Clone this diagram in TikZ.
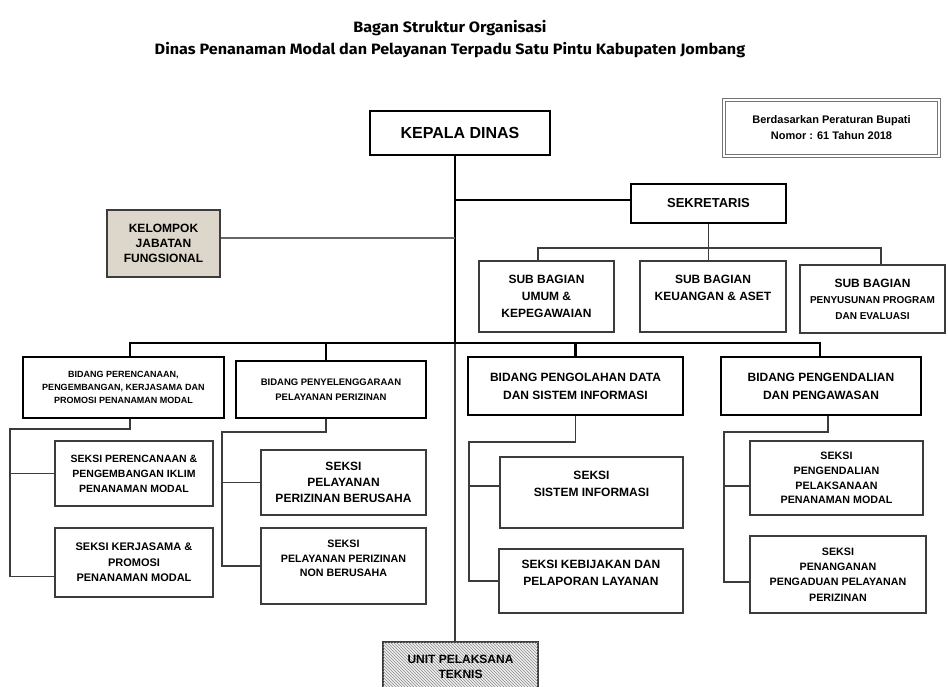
\documentclass[tikz,border=0pt]{standalone}
\usepackage{fontspec}
\setmainfont{Liberation Sans}[BoldFont={Liberation Sans Bold}]
\newfontfamily\titlefont{Fira Sans}[FakeStretch=1.08, BoldFont={Fira Sans Bold}]
\usetikzlibrary{patterns}
\definecolor{kelfill}{RGB}{221,214,202}
\definecolor{linegray}{RGB}{60,60,60}
\newcommand{\boxfont}[2]{\bfseries\fontsize{#1}{#2}\selectfont}
\tikzset{
  sz/.style 2 args={minimum width=#1pt, minimum height=#2pt},
  box/.style={draw, align=center, inner sep=1pt, text=black},
  kepala/.style={box, line width=2.8pt},
  bidang/.style={box, line width=2.2pt},
  seksi/.style={box, line width=1.1pt, draw=linegray},
  tebal/.style={line width=2.6pt},
  tipis/.style={line width=1.1pt, draw=linegray},
}
\begin{document}
\begin{tikzpicture}[x=1pt,y=-1pt]
        \useasboundingbox (0,0) rectangle (948,687);
        \node[align=center, font=\titlefont\bfseries\fontsize{15}{22}\selectfont] (judul) at (450,39)
          {Bagan Struktur Organisasi\\Dinas Penanaman Modal dan Pelayanan Terpadu Satu Pintu Kabupaten Jombang};

        \node[kepala, sz={180}{44}, font=\boxfont{16}{18}] (kd) at (460,133) {KEPALA DINAS};
        \node[box, sz={215}{56}, draw=black!55, double=white, double distance=1.6pt, line width=1.2pt,
          font=\boxfont{11}{16}] (dasar) at (831.5,128) {Berdasarkan Peraturan Bupati\\Nomor : 61 Tahun 2018};
        \node[kepala, line width=2.4pt, sz={155}{39}, font=\boxfont{13}{15}] (sek) at (708.5,203.5) {SEKRETARIS};
        \node[seksi, fill=kelfill, line width=1.3pt, sz={113}{67}, font=\boxfont{12}{15}] (kel) at (163.5,243.5)
          {KELOMPOK\\JABATAN\\FUNGSIONAL};

        % sub bagian
        \node[seksi, sz={135}{71}, font=\boxfont{12}{17}] (sb1) at (546.5,296.5) {SUB BAGIAN\\UMUM \&\\KEPEGAWAIAN};
        \node[seksi, sz={146}{71}, font=\boxfont{12}{17}] (sb2) at (713,296.5) {SUB BAGIAN\\KEUANGAN \& ASET\\\mbox{}};
        \node[seksi, sz={145}{68}, font=\boxfont{12}{16}] (sb3) at (872.5,299)
          {SUB BAGIAN\\{\boxfont{10}{15}PENYUSUNAN PROGRAM}\\{\boxfont{10}{15}DAN EVALUASI}};

        % bidang
        \node[bidang, sz={201}{61}, font=\boxfont{9}{13}] (bp1) at (123.5,387.5)
          {BIDANG PERENCANAAN,\\PENGEMBANGAN, KERJASAMA DAN\\PROMOSI PENANAMAN MODAL};
        \node[bidang, sz={190}{57}, font=\boxfont{9.5}{15}] (bp2) at (331,389.5)
          {BIDANG PENYELENGGARAAN\\PELAYANAN PERIZINAN};
        \node[bidang, sz={215}{58}, font=\boxfont{12}{18}] (bp3) at (575.5,386)
          {BIDANG PENGOLAHAN DATA\\DAN SISTEM INFORMASI};
        \node[bidang, sz={200}{58}, font=\boxfont{12}{18}] (bp4) at (821,386)
          {BIDANG PENGENDALIAN\\DAN PENGAWASAN};

        % seksi
        \node[seksi, sz={158}{65}, font=\boxfont{10.5}{15}] (s1a) at (134,473.5)
          {SEKSI PERENCANAAN \&\\PENGEMBANGAN IKLIM\\PENANAMAN MODAL};
        \node[seksi, sz={158}{69}, font=\boxfont{11}{15.5}] (s1b) at (134,562.5)
          {SEKSI KERJASAMA \&\\PROMOSI\\PENANAMAN MODAL};
        \node[seksi, sz={165}{65}, font=\boxfont{12}{16}] (s2a) at (343.5,482.5)
          {SEKSI\\PELAYANAN\\PERIZINAN BERUSAHA};
        \node[seksi, sz={165}{76}, font=\boxfont{10.7}{14.5}] (s2b) at (343.5,566)
          {SEKSI\\PELAYANAN PERIZINAN\\NON BERUSAHA\\\mbox{}};
        \node[seksi, sz={183}{71}, font=\boxfont{12}{17}] (s3a) at (591.5,492.5)
          {SEKSI\\SISTEM INFORMASI\\\mbox{}};
        \node[seksi, sz={184}{64}, font=\boxfont{12}{17}] (s3b) at (591,581)
          {SEKSI KEBIJAKAN DAN\\PELAPORAN LAYANAN\\\mbox{}};
        \node[seksi, sz={173}{74}, font=\boxfont{10.7}{14.7}] (s4a) at (836.5,478)
          {SEKSI\\PENGENDALIAN\\PELAKSANAAN\\PENANAMAN MODAL};
        \node[seksi, sz={176}{77}, font=\boxfont{10.7}{15.3}] (s4b) at (838,574.5)
          {SEKSI\\PENANGANAN\\PENGADUAN PELAYANAN\\PERIZINAN};

        \node[seksi, sz={155}{50}, fill=black!6, postaction={pattern=north west lines, pattern color=black!45},
          font=\boxfont{12}{15}] (upt) at (460.5,667) {UNIT PELAKSANA\\TEKNIS};

        % garis utama
        \coordinate (jsek) at (455,200);
        \coordinate (jkel) at (455,238);
        \coordinate (bus) at (455,343);
        \draw[tebal] (kd.south -| bus) -- (bus);
        \draw[tebal] (jsek) -- (jsek -| sek.west);
        \draw[tipis, line width=1.4pt, draw=black!60] (kel.east |- jkel) -- (jkel);
        \draw[tipis] (bus) -- (upt.north -| bus);

        % sekretaris ke sub bagian
        \coordinate (sbkiri) at (538,248);
        \coordinate (sbkanan) at (881,248);
        \draw[tipis] (sbkiri |- sb1.north) -- (sbkiri) -- (sbkanan) -- (sbkanan |- sb3.north);
        \draw[tipis] (sek.south) -- (sek.south |- sb2.north);

        % bidang
        \coordinate (d1) at (130,343);
        \coordinate (d2) at (326,343);
        \coordinate (d4) at (820,343);
        \draw[tebal] (d1 |- bp1.north) -- (d1) -- (d4) -- (d4 |- bp4.north);
        \draw[tebal] (d2) -- (d2 |- bp2.north);
        \draw[tebal] (bp3.north |- bus) -- (bp3.north);

        % seksi
        \coordinate (k1) at (10,429);
        \coordinate (a1b) at ([yshift=-14pt]s1b.west);
        \draw[tipis] (d1 |- bp1.south) |- (k1) -- (k1 |- a1b) -- (a1b);
        \draw[tipis] (k1 |- s1a.west) -- (s1a.west);

        \coordinate (k2) at (222,432);
        \draw[tipis] (d2 |- bp2.south) |- (k2) -- (k2 |- s2b.west) -- (s2b.west);
        \draw[tipis] (k2 |- s2a.west) -- (s2a.west);

        \coordinate (k3) at (469,442);
        \coordinate (a3a) at ([yshift=6.5pt]s3a.west);
        \draw[tipis] (bp3.south) |- (k3) -- (k3 |- s3b.west) -- (s3b.west);
        \draw[tipis] (k3 |- a3a) -- (a3a);

        \coordinate (k4) at (724,432);
        \coordinate (d4b) at ([xshift=7pt]bp4.south);
        \coordinate (a4a) at ([yshift=-8pt]s4a.west);
        \coordinate (a4b) at ([yshift=-7.5pt]s4b.west);
        \draw[tipis] (d4b) |- (k4) -- (k4 |- a4b) -- (a4b);
        \draw[tipis] (k4 |- a4a) -- (a4a);
\end{tikzpicture}
\end{document}
